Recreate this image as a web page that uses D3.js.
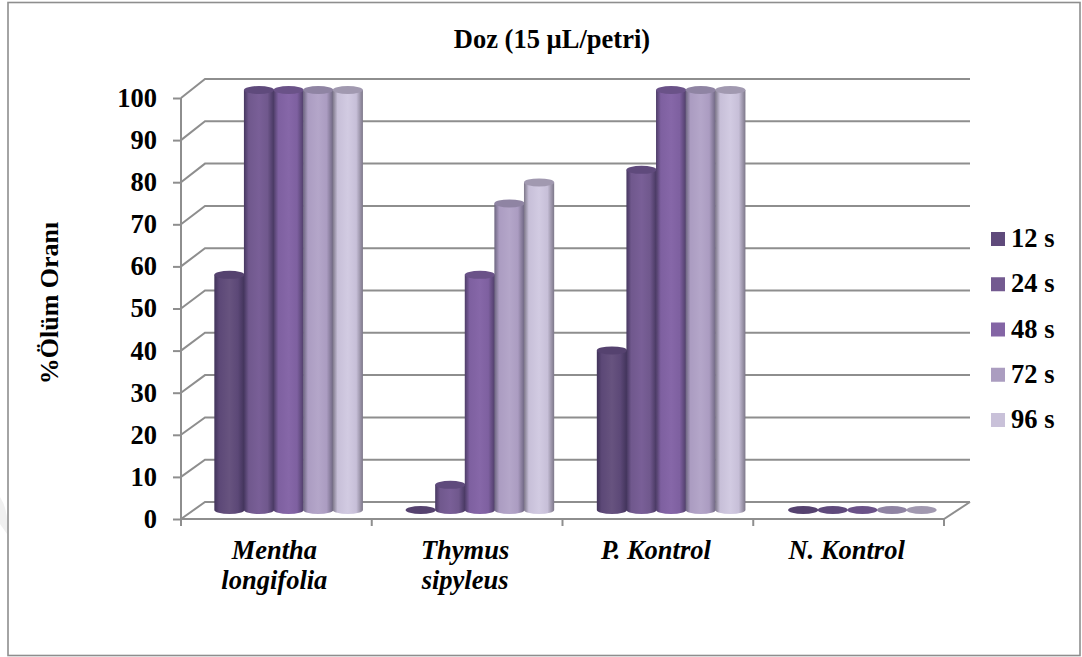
<!DOCTYPE html>
<html>
<head>
<meta charset="utf-8">
<script src="https://cdn.jsdelivr.net/npm/d3@7/dist/d3.min.js"></script>
<style>
  html, body { margin: 0; padding: 0; background: #fff; }
  svg { display: block; }
  text { font-family: "Liberation Serif", serif; font-weight: bold; fill: #000; }
</style>
</head>
<body>
<svg id="chart" width="1082" height="657"></svg>
<script>
// Mortality percentages per treatment and exposure time
const categories = ["Mentha longifolia", "Thymus sipyleus", "P. Kontrol", "N. Kontrol"];
const categoryLines = [["Mentha", "longifolia"], ["Thymus", "sipyleus"], ["P. Kontrol"], ["N. Kontrol"]];
const series = ["12 s", "24 s", "48 s", "72 s", "96 s"];
const values12 = [56, 0, 38, 0];
const values24 = [100, 6, 81, 0];
const values48 = [100, 56, 100, 0];
const values72 = [100, 73, 100, 0];
const values96 = [100, 78, 100, 0];
const seriesValues = [values12, values24, values48, values72, values96];
const yTicks = [0, 10, 20, 30, 40, 50, 60, 70, 80, 90, 100];

// Colour sets: body edge, body mid tone, body highlight, cap, legend swatch
const bodyEdge = ["#41335a", "#463760", "#4e3d68", "#6d6580", "#7d7789"];
const bodyMid = ["#5c4877", "#70588d", "#7e60a0", "#ab9cc1", "#c7bfd8"];
const bodyLight = ["#67537f", "#795f97", "#8667a8", "#b4a6c9", "#d2cbe2"];
const capFill = ["#55426f", "#5f4a7c", "#6a5288", "#8f84a3", "#a199b0"];
const swatch = ["#5f4a7b", "#735a90", "#8465a5", "#ab9dc0", "#c9c1d9"];

const axisColor = "#8e8e8e";
const svg = d3.select("#chart");

// Frame around the figure and the faint mark beyond its left edge
svg.append("path")
  .attr("d", "M0,497 Q9,510 7,534 L0,524 Z")
  .attr("fill", "#f0f0f0");
svg.append("rect")
  .attr("x", 8).attr("y", 2.5)
  .attr("width", 1072).attr("height", 653)
  .attr("fill", "#fff").attr("stroke", axisColor).attr("stroke-width", 1.6);

// Oblique projection: front plane, back wall and the plane holding the cylinders
const yFront = d3.scaleLinear().domain([0, 100]).range([519, 98]);
const yBack = d3.scaleLinear().domain([0, 100]).range([502, 79]);
const yBar = d3.scaleLinear().domain([0, 100]).range([510, 90]);
const xFront = d3.scaleBand().domain(categories).range([181, 944]);
const xBars = d3.scaleBand().domain(categories).range([193, 958]);
const xSeries = d3.scaleBand().domain(series).range([-74, 74]);
const backLeft = 205, backRight = 970;
const capRy = 4;

// Gradients that give each cylinder its rounded shading
const defs = svg.append("defs");
series.forEach((s, i) => {
  const g = defs.append("linearGradient")
    .attr("id", "cyl" + i)
    .attr("x1", 0).attr("x2", 1).attr("y1", 0).attr("y2", 0);
  [[0, bodyEdge[i]], [0.16, bodyMid[i]], [0.5, bodyLight[i]], [0.78, bodyMid[i]], [1, bodyEdge[i]]]
    .forEach(([o, c]) => g.append("stop").attr("offset", o).attr("stop-color", c));
});

// Wall gridlines with their diagonals, drawn behind the cylinders
const grid = svg.append("g").attr("fill", "none").attr("stroke", axisColor).attr("stroke-width", 2);
grid.selectAll("path.wall")
  .data(yTicks)
  .join("path")
  .attr("class", "wall")
  .attr("d", d => `M181,${yFront(d)}L${backLeft},${yBack(d)}L${backRight},${yBack(d)}`);
grid.append("path")
  .attr("d", `M${backRight},${yBack(0)}L944,${yFront(0)}L181,${yFront(0)}`);

// Front value axis and category axis
const yAxis = svg.append("g")
  .attr("transform", "translate(181,0)")
  .call(d3.axisLeft(yFront).tickValues(yTicks).tickSize(8).tickPadding(16).tickSizeOuter(0));
yAxis.select(".domain").attr("stroke", axisColor).attr("stroke-width", 2)
  .attr("d", `M0,${yFront(100)}V526`);
yAxis.selectAll(".tick line").attr("stroke", axisColor).attr("stroke-width", 2);
yAxis.selectAll(".tick text")
  .style("font-family", '"Liberation Serif", serif')
  .style("font-weight", "bold")
  .style("font-size", "26.5px")
  .attr("fill", "#000");

const catEdges = categories.map(c => xFront(c)).concat(xFront.range()[1]);
svg.append("g").selectAll("line")
  .data(catEdges.slice(1))
  .join("line")
  .attr("x1", d => d).attr("x2", d => d)
  .attr("y1", yFront(0)).attr("y2", 526)
  .attr("stroke", axisColor).attr("stroke-width", 2);

// Cylinders, left to right so each overlaps its left neighbour
const marks = categories.flatMap((c, ci) => series.map((s, si) => ({ c, s, si, v: seriesValues[si][ci] })));
const bw = xSeries.bandwidth() + 0.6;
const bars = svg.append("g").selectAll("g").data(marks).join("g")
  .attr("transform", d => `translate(${xBars(d.c) + xBars.bandwidth() / 2 + xSeries(d.s) - 0.3},0)`);
bars.filter(d => d.v > 0).append("path")
  .attr("fill", d => `url(#cyl${d.si})`)
  .attr("d", d => `M0,${yBar(d.v)}V${yBar(0)}A${bw / 2},${capRy} 0 0 0 ${bw},${yBar(0)}V${yBar(d.v)}Z`);
bars.append("ellipse")
  .attr("cx", bw / 2).attr("cy", d => yBar(d.v))
  .attr("rx", bw / 2).attr("ry", capRy)
  .attr("fill", d => capFill[d.si]);

// Category labels
const labels = svg.append("g").attr("text-anchor", "middle")
  .style("font-style", "italic").style("font-size", "26.5px");
categories.forEach((c, i) => {
  labels.append("text")
    .attr("x", xFront(c) + xFront.bandwidth() / 2 - 2)
    .selectAll("tspan").data(categoryLines[i]).join("tspan")
    .attr("x", xFront(c) + xFront.bandwidth() / 2 - 2)
    .attr("y", (d, j) => 559 + j * 30)
    .text(d => d);
});

// Title and value-axis label
svg.append("text").attr("x", 552).attr("y", 48)
  .attr("text-anchor", "middle").style("font-size", "26.5px").text("Doz (15 µL/petri)");
svg.append("text")
  .attr("transform", "translate(58,303) rotate(-90)")
  .attr("text-anchor", "middle").style("font-size", "26px").text("%Ölüm Oranı");

// Legend
const legendY = d3.scalePoint().domain(series).range([239, 420]);
const legend = svg.append("g").selectAll("g").data(series).join("g")
  .attr("transform", d => `translate(991,${legendY(d)})`);
legend.append("rect")
  .attr("x", 0).attr("y", -7).attr("width", 14).attr("height", 14)
  .attr("fill", (d, i) => swatch[i]);
legend.append("text")
  .attr("x", 20).attr("y", 8)
  .style("font-size", "26.5px").text(d => d);
</script>
</body>
</html>
